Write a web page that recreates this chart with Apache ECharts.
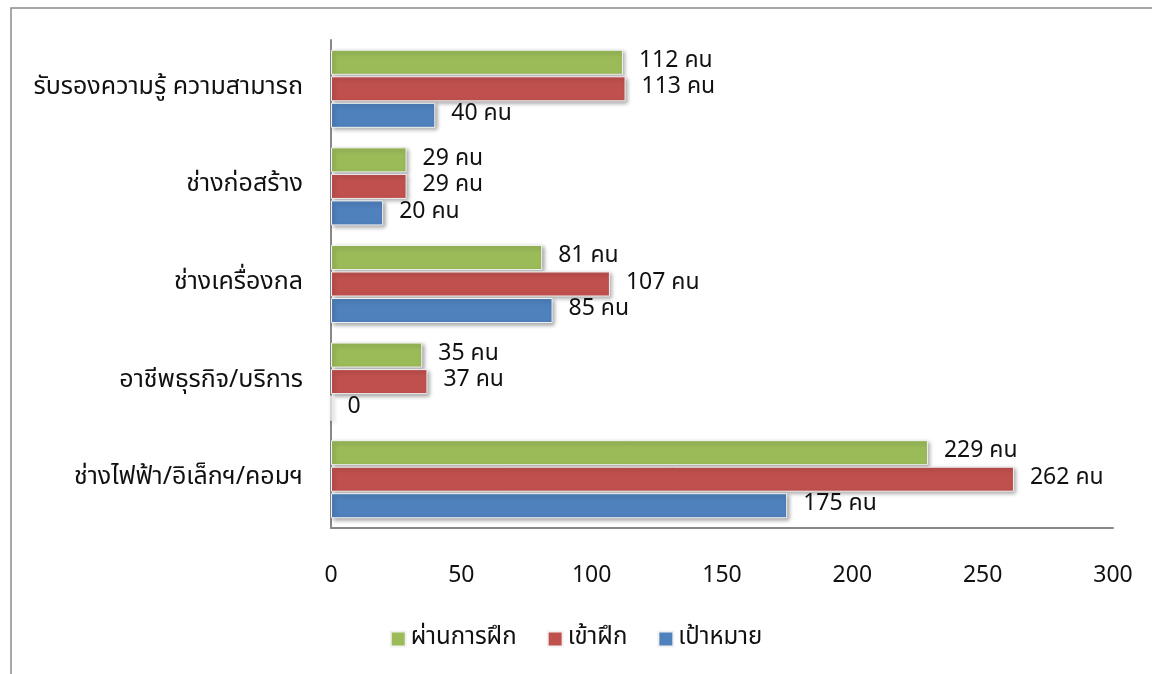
<!DOCTYPE html>
<html>
<head>
<meta charset="utf-8">
<script src="https://cdn.jsdelivr.net/npm/echarts@6/dist/echarts.min.js"></script>
<style>
html,body{margin:0;padding:0;background:#fff;}
#chart{width:1152px;height:674px;}
</style>
</head>
<body>
<div id="chart"></div>
<script>
const categories = ['ช่างไฟฟ้า/อิเล็กฯ/คอมฯ', 'อาชีพธุรกิจ/บริการ', 'ช่างเครื่องกล', 'ช่างก่อสร้าง', 'รับรองความรู้ ความสามารถ'];
const target = [175, 0, 85, 20, 40];      // เป้าหมาย
const enrolled = [262, 37, 107, 29, 113]; // เข้าฝึก
const passed = [229, 35, 81, 29, 112];    // ผ่านการฝึก
const xTicks = [0, 50, 100, 150, 200, 250, 300];

const FONT = '"Noto Sans Thai", "Tahoma", "DejaVu Sans", sans-serif';
const chart = echarts.init(document.getElementById('chart'));
const labelCfg = {
  show: true, position: 'right', distance: 16,
  fontSize: 23, color: '#111', fontFamily: FONT,
  formatter: p => p.value === 0 ? '0' : p.value + ' คน'
};
const itemBase = {borderColor: '#f2f2f2', borderWidth: 1, shadowBlur: 4, shadowOffsetX: 2, shadowOffsetY: 2, shadowColor: 'rgba(0,0,0,0.35)'};
chart.setOption({
  animation: false,
  graphic: [{type: 'rect', shape: {x: 11, y: 8, width: 1300, height: 800}, style: {fill: 'none', stroke: '#8c8c8c', lineWidth: 1.5}, silent: true}],
  grid: {left: 331, right: 39, top: 40, bottom: 146, containLabel: false},
  legend: {
    data: ['ผ่านการฝึก', 'เข้าฝึก', 'เป้าหมาย'],
    bottom: 18, left: 'center', icon: 'rect', itemWidth: 15, itemHeight: 15, itemGap: 30,
    textStyle: {fontSize: 24, color: '#111', fontFamily: FONT}
  },
  xAxis: {
    type: 'value', min: xTicks[0], max: xTicks[xTicks.length - 1], interval: 50,
    axisLine: {show: true, lineStyle: {color: '#888', width: 2}},
    axisTick: {show: false}, splitLine: {show: false},
    axisLabel: {fontSize: 23, color: '#111', fontFamily: FONT, margin: 38}
  },
  yAxis: {
    type: 'category', data: categories,
    axisLine: {show: true, lineStyle: {color: '#888', width: 2}},
    axisTick: {show: false},
    axisLabel: {fontSize: 25, color: '#111', fontFamily: FONT, margin: 28}
  },
  series: [
    {name: 'ผ่านการฝึก', type: 'bar', data: passed, barCategoryGap: '20%', barGap: '6%', itemStyle: Object.assign({color: '#9BBB59'}, itemBase), label: labelCfg},
    {name: 'เข้าฝึก', type: 'bar', data: enrolled, barCategoryGap: '20%', barGap: '6%', itemStyle: Object.assign({color: '#C0504D'}, itemBase), label: labelCfg},
    {name: 'เป้าหมาย', type: 'bar', data: target, barCategoryGap: '20%', barGap: '6%', itemStyle: Object.assign({color: '#4F81BD'}, itemBase), label: labelCfg}
  ]
});
</script>
</body>
</html>
